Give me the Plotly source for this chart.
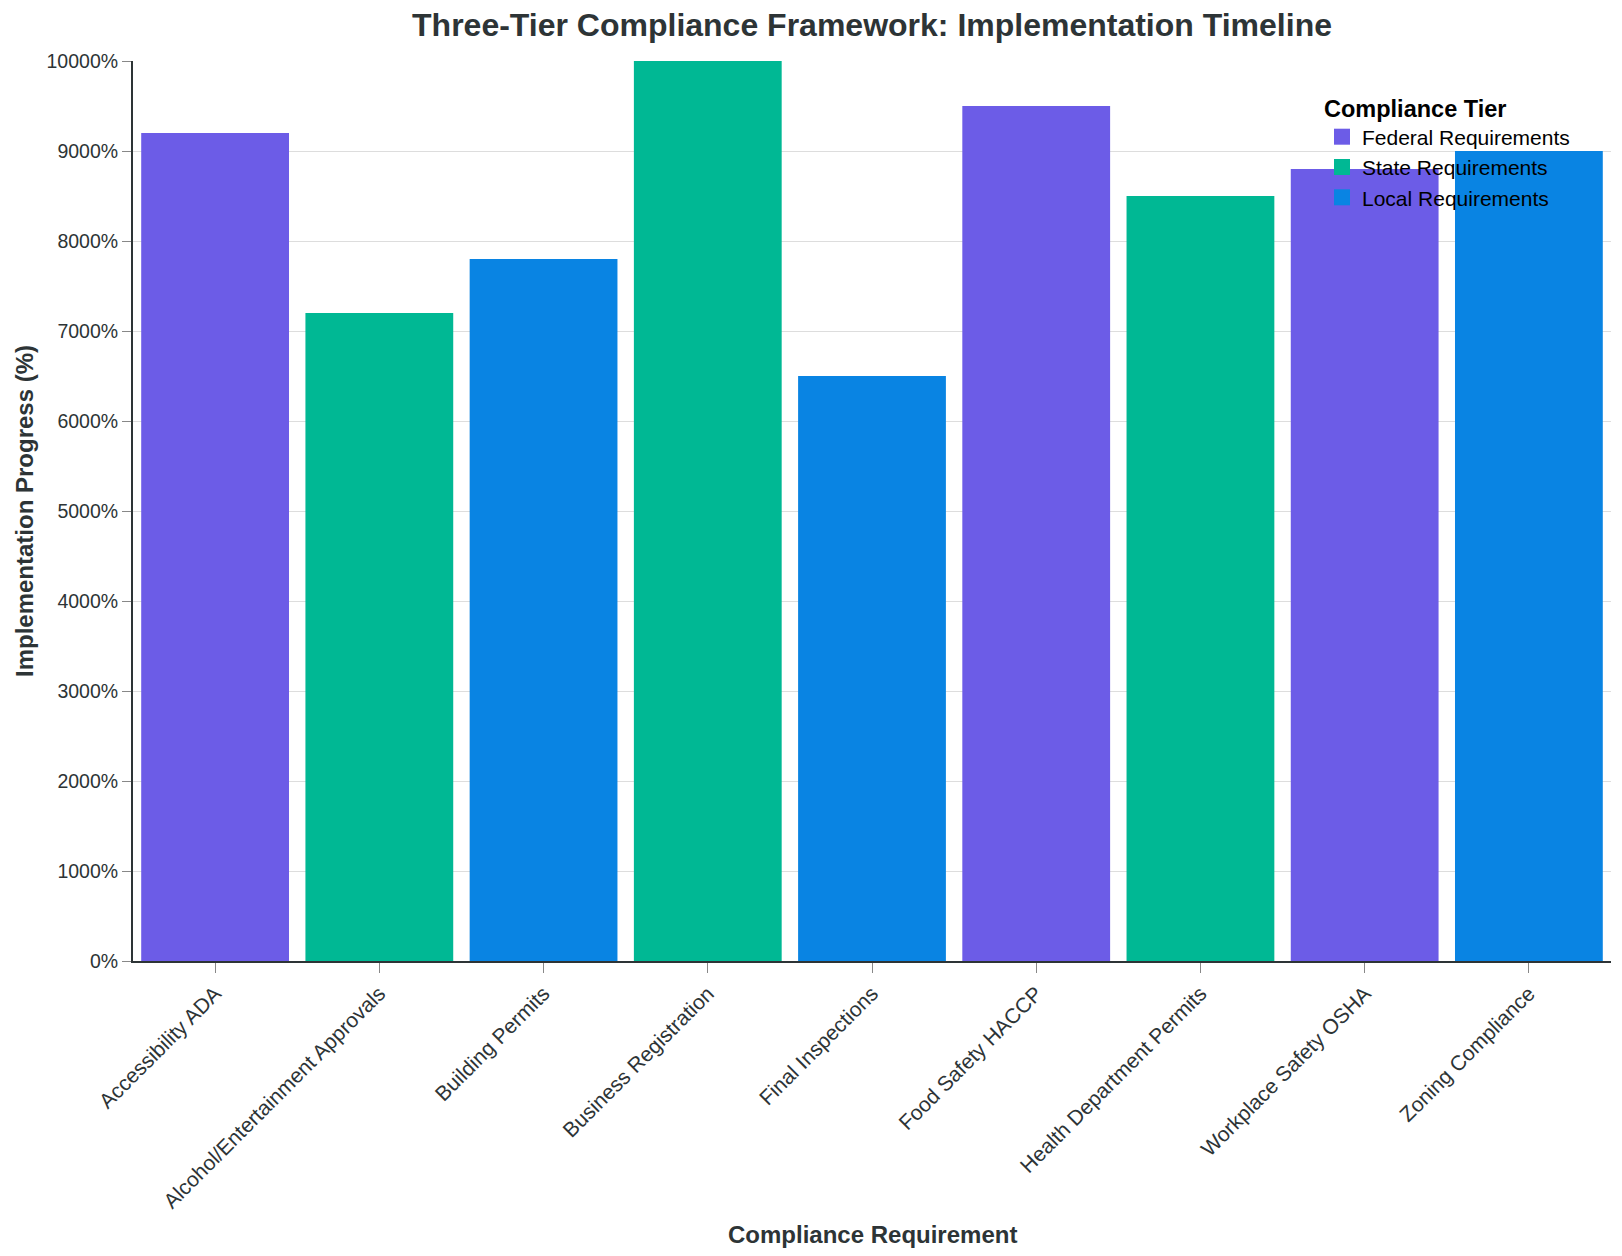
import plotly.graph_objects as go

categories = [
    "Accessibility ADA",
    "Alcohol/Entertainment Approvals",
    "Building Permits",
    "Business Registration",
    "Final Inspections",
    "Food Safety HACCP",
    "Health Department Permits",
    "Workplace Safety OSHA",
    "Zoning Compliance",
]
progress = [92, 72, 78, 100, 65, 95, 85, 88, 90]
tiers = [
    "Federal Requirements",
    "State Requirements",
    "Local Requirements",
    "State Requirements",
    "Local Requirements",
    "Federal Requirements",
    "State Requirements",
    "Federal Requirements",
    "Local Requirements",
]
tier_order = ["Federal Requirements", "State Requirements", "Local Requirements"]
tier_colors = {
    "Federal Requirements": "#6c5ce7",
    "State Requirements": "#00b894",
    "Local Requirements": "#0984e3",
}
y_ticks = list(range(0, 101, 10))

FONT = "Liberation Sans, Arial, Helvetica, sans-serif"
DARK = "#2d3436"

fig = go.Figure()
for t in tier_order:
    xs = [c for c, tt in zip(categories, tiers) if tt == t]
    ys = [v for v, tt in zip(progress, tiers) if tt == t]
    fig.add_trace(go.Bar(
        x=xs, y=ys, name=t, marker=dict(color=tier_colors[t], line=dict(width=0)),
        showlegend=False, legendgroup=t,
    ))
    # legend swatch
    fig.add_trace(go.Scatter(
        x=[None], y=[None], mode="markers", name=t, legendgroup=t,
        marker=dict(symbol="square", size=20, color=tier_colors[t]),
        showlegend=True,
    ))

fig.update_layout(
    width=1622, height=1256,
    margin=dict(l=133, r=11, t=61, b=295),
    paper_bgcolor="white", plot_bgcolor="white",
    barmode="relative", bargap=0.1,
    font=dict(family=FONT, color=DARK),
    title=dict(
        text="<b>Three-Tier Compliance Framework: Implementation Timeline</b>",
        font=dict(size=32, color=DARK, family=FONT),
        x=(133 + 1611) / 2 / 1622, xanchor="center",
        y=1 - 25 / 1256, yanchor="middle", yref="container",
    ),
    legend=dict(
        title=dict(text="<b>Compliance Tier</b>", font=dict(size=23.5, color="black")),
        font=dict(size=21, color="black"),
        x=(1322 - 133) / 1478, xanchor="left",
        y=(961 - 86) / 900, yanchor="top",
        bgcolor="rgba(0,0,0,0)", borderwidth=0,
        tracegroupgap=0, itemsizing="trace",
    ),
    xaxis=dict(
        type="category", categoryorder="array", categoryarray=categories,
        tickangle=-45, tickfont=dict(size=21, color=DARK),
        ticks="outside", ticklen=10, tickcolor="#888", tickwidth=1,
        showline=True, linecolor=DARK, linewidth=2,
        showgrid=False, automargin=False,
    ),
    yaxis=dict(
        range=[0, 100], tickvals=y_ticks, tickformat=".0%",
        tickfont=dict(size=19.5, color=DARK),
        ticks="outside", ticklen=9, tickcolor="#888", tickwidth=1,
        showline=True, linecolor=DARK, linewidth=2,
        showgrid=True, gridcolor="#dddddd", gridwidth=1,
        zeroline=False, automargin=False,
    ),
    annotations=[
        dict(text="<b>Compliance Requirement</b>", xref="paper", yref="paper",
             x=0.5, y=(961 - 1234) / 900, xanchor="center", yanchor="middle",
             showarrow=False, font=dict(size=24, color=DARK)),
        dict(text="<b>Implementation Progress (%)</b>", xref="paper", yref="paper",
             x=(24 - 133) / 1478, y=0.5, xanchor="center", yanchor="middle",
             textangle=-90, showarrow=False, font=dict(size=24, color=DARK)),
    ],
)

fig.write_html("out.html")
